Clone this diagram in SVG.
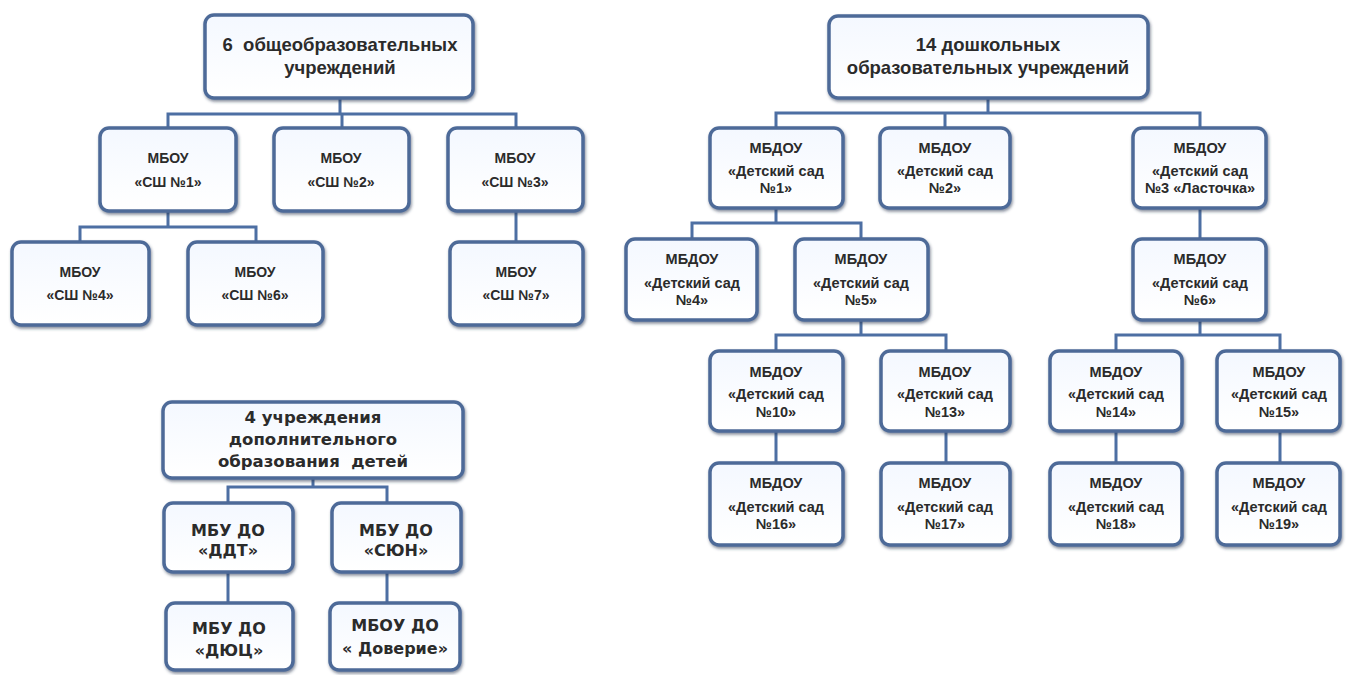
<svg xmlns="http://www.w3.org/2000/svg" width="1346" height="675" viewBox="0 0 1346 675">
<defs>
<filter id="sh" x="-10%" y="-10%" width="120%" height="130%">
<feDropShadow dx="1" dy="2" stdDeviation="1.5" flood-color="#2a3550" flood-opacity="0.55"/>
</filter>
<linearGradient id="bg" x1="0" y1="0" x2="0" y2="1">
<stop offset="0" stop-color="#f4f8ff"/>
<stop offset="1" stop-color="#ffffff"/>
</linearGradient>
</defs>
<style>
.box{fill:url(#bg);stroke:#4d6a98;stroke-width:3.5;filter:url(#sh)}
.ln{fill:none;stroke:#4d6fa3;stroke-width:3}
text{font-family:"Liberation Sans",Arial,sans-serif;font-weight:bold;fill:#2b2b2b;text-anchor:middle}
.rt{font-size:18.5px}
.c1{font-size:14px}
.c2{font-size:14.5px}
.b{font-family:"DejaVu Sans",Verdana,sans-serif;font-size:16px}
.br{font-family:"DejaVu Sans",Verdana,sans-serif;font-size:16.5px}
</style>
<rect width="1346" height="675" fill="#ffffff"/>
<g id="connectors">
<path class="ln" d="M340 98V114M168 128V114H516V128M342 114V128"/>
<path class="ln" d="M168 212V227M80 242V227H256V242"/>
<path class="ln" d="M516 212V242"/>
<path class="ln" d="M988 98V113M776 128V113H1200V128M945 113V128"/>
<path class="ln" d="M776 208V223M692 239V223H861V239"/>
<path class="ln" d="M1200 208V239"/>
<path class="ln" d="M861 320V335M776 351V335H946V351"/>
<path class="ln" d="M1200 320V335M1116 351V335H1280V351"/>
<path class="ln" d="M776 431V463M946 431V463M1116 431V463M1280 431V463"/>
<path class="ln" d="M313 478V487M228 503V487H387V503"/>
<path class="ln" d="M228 572V603M387 572V603"/>
</g>
<g id="n-root-school"><rect class="box" x="205" y="15" width="268" height="83" rx="9"/><text class="rt" x="340" y="51" xml:space="preserve">6  общеобразовательных</text><text class="rt" x="340" y="74">учреждений</text></g>
<g id="n-sh1"><rect class="box" x="100" y="128" width="136" height="83" rx="9"/><text class="c1" x="168" y="163">МБОУ</text><text class="c1" x="168" y="187">«СШ №1»</text></g>
<g id="n-sh2"><rect class="box" x="274" y="128" width="135" height="83" rx="9"/><text class="c1" x="341" y="163">МБОУ</text><text class="c1" x="341" y="187">«СШ №2»</text></g>
<g id="n-sh3"><rect class="box" x="448" y="128" width="135" height="83" rx="9"/><text class="c1" x="515" y="163">МБОУ</text><text class="c1" x="515" y="187">«СШ №3»</text></g>
<g id="n-sh4"><rect class="box" x="12" y="242" width="137" height="83" rx="9"/><text class="c1" x="80" y="277">МБОУ</text><text class="c1" x="80" y="300">«СШ №4»</text></g>
<g id="n-sh6"><rect class="box" x="188" y="242" width="135" height="83" rx="9"/><text class="c1" x="255" y="277">МБОУ</text><text class="c1" x="255" y="300">«СШ №6»</text></g>
<g id="n-sh7"><rect class="box" x="450" y="242" width="133" height="83" rx="9"/><text class="c1" x="516" y="277">МБОУ</text><text class="c1" x="516" y="300">«СШ №7»</text></g>

<g id="n-root-dou"><rect class="box" x="829" y="16" width="319" height="82" rx="9"/><text class="rt" x="988" y="51">14 дошкольных</text><text class="rt" x="988" y="74">образовательных учреждений</text></g>
<g id="n-d1"><rect class="box" x="710" y="128" width="133" height="80" rx="9"/><text class="c2" x="776" y="153">МБДОУ</text><text class="c2" x="776" y="176">«Детский сад</text><text class="c2" x="776" y="193">№1»</text></g>
<g id="n-d2"><rect class="box" x="880" y="128" width="130" height="80" rx="9"/><text class="c2" x="945" y="153">МБДОУ</text><text class="c2" x="945" y="176">«Детский сад</text><text class="c2" x="945" y="193">№2»</text></g>
<g id="n-d3"><rect class="box" x="1133" y="128" width="133" height="80" rx="9"/><text class="c2" x="1200" y="153">МБДОУ</text><text class="c2" x="1200" y="176">«Детский сад</text><text class="c2" x="1200" y="193">№3 «Ласточка»</text></g>
<g id="n-d4"><rect class="box" x="626" y="239" width="131" height="81" rx="9"/><text class="c2" x="692" y="264">МБДОУ</text><text class="c2" x="692" y="288">«Детский сад</text><text class="c2" x="692" y="305">№4»</text></g>
<g id="n-d5"><rect class="box" x="795" y="239" width="133" height="81" rx="9"/><text class="c2" x="861" y="264">МБДОУ</text><text class="c2" x="861" y="288">«Детский сад</text><text class="c2" x="861" y="305">№5»</text></g>
<g id="n-d6"><rect class="box" x="1133" y="239" width="133" height="81" rx="9"/><text class="c2" x="1200" y="264">МБДОУ</text><text class="c2" x="1200" y="288">«Детский сад</text><text class="c2" x="1200" y="305">№6»</text></g>
<g id="n-d10"><rect class="box" x="710" y="351" width="133" height="80" rx="9"/><text class="c2" x="776" y="377">МБДОУ</text><text class="c2" x="776" y="399">«Детский сад</text><text class="c2" x="776" y="417">№10»</text></g>
<g id="n-d13"><rect class="box" x="881" y="351" width="129" height="80" rx="9"/><text class="c2" x="945" y="377">МБДОУ</text><text class="c2" x="945" y="399">«Детский сад</text><text class="c2" x="945" y="417">№13»</text></g>
<g id="n-d14"><rect class="box" x="1050" y="351" width="132" height="80" rx="9"/><text class="c2" x="1116" y="377">МБДОУ</text><text class="c2" x="1116" y="399">«Детский сад</text><text class="c2" x="1116" y="417">№14»</text></g>
<g id="n-d15"><rect class="box" x="1217" y="351" width="123" height="80" rx="9"/><text class="c2" x="1279" y="377">МБДОУ</text><text class="c2" x="1279" y="399">«Детский сад</text><text class="c2" x="1279" y="417">№15»</text></g>
<g id="n-d16"><rect class="box" x="710" y="463" width="133" height="82" rx="9"/><text class="c2" x="776" y="488">МБДОУ</text><text class="c2" x="776" y="512">«Детский сад</text><text class="c2" x="776" y="529">№16»</text></g>
<g id="n-d17"><rect class="box" x="881" y="463" width="129" height="82" rx="9"/><text class="c2" x="945" y="488">МБДОУ</text><text class="c2" x="945" y="512">«Детский сад</text><text class="c2" x="945" y="529">№17»</text></g>
<g id="n-d18"><rect class="box" x="1050" y="463" width="132" height="82" rx="9"/><text class="c2" x="1116" y="488">МБДОУ</text><text class="c2" x="1116" y="512">«Детский сад</text><text class="c2" x="1116" y="529">№18»</text></g>
<g id="n-d19"><rect class="box" x="1217" y="463" width="123" height="82" rx="9"/><text class="c2" x="1279" y="488">МБДОУ</text><text class="c2" x="1279" y="512">«Детский сад</text><text class="c2" x="1279" y="529">№19»</text></g>

<g id="n-root-dod"><rect class="box" x="163" y="402" width="300" height="76" rx="9"/><text class="br" x="313" y="423">4 учреждения</text><text class="br" x="313" y="445">дополнительного</text><text class="br" x="313" y="467" xml:space="preserve">образования  детей</text></g>
<g id="n-ddt"><rect class="box" x="164" y="503" width="129" height="69" rx="9"/><text class="b" x="228" y="536">МБУ ДО</text><text class="b" x="228" y="556">«ДДТ»</text></g>
<g id="n-syun"><rect class="box" x="332" y="503" width="129" height="69" rx="9"/><text class="b" x="396" y="536">МБУ ДО</text><text class="b" x="396" y="556">«СЮН»</text></g>
<g id="n-dyuc"><rect class="box" x="166" y="603" width="127" height="67" rx="9"/><text class="b" x="229" y="634">МБУ ДО</text><text class="b" x="229" y="656">«ДЮЦ»</text></g>
<g id="n-doverie"><rect class="box" x="330" y="603" width="130" height="67" rx="9"/><text class="b" x="395" y="631">МБОУ ДО</text><text class="b" x="395" y="654">« Доверие»</text></g>
</svg>
